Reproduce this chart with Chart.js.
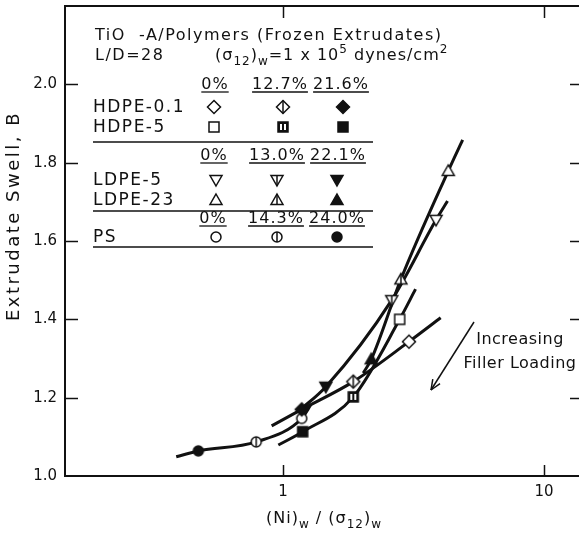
<!DOCTYPE html>
<html lang="en">
<head>
<meta charset="UTF-8">
<title>Extrudate Swell</title>
<script src="https://cdn.jsdelivr.net/npm/chart.js"></script>
<style>
html, body { margin: 0; padding: 0; overflow: hidden; background: #fff; }
#swellChart { display: block; }
</style>
</head>
<body>
<canvas id="swellChart" width="579" height="539"></canvas>
<script>
// filler loadings shown over each block of the key
var hdpeLoadings = ['0%', '12.7%', '21.6%'];
var ldpeLoadings = ['0%', '13.0%', '22.1%'];
var psLoadings = ['0%', '14.3%', '24.0%'];

// measured points, ordered 0%, middle, highest loading
var hdpe01X = [3.04, 1.86, 1.18];
var hdpe01Y = [1.343, 1.241, 1.170];
var hdpe5X = [2.80, 1.86, 1.19];
var hdpe5Y = [1.400, 1.202, 1.113];
var ldpe5X = [3.86, 2.61, 1.46];
var ldpe5Y = [1.654, 1.449, 1.228];
var ldpe23X = [4.30, 2.83, 2.18];
var ldpe23Y = [1.779, 1.502, 1.298];
var psX = [1.18, 0.79, 0.474];
var psY = [1.147, 1.087, 1.064];

// drawn curves through each polymer
var hdpe01CurveX = [0.905, 1.18, 1.86, 3.04, 4.02];
var hdpe01CurveY = [1.128, 1.170, 1.241, 1.343, 1.404];
var hdpe5CurveX = [0.96, 1.19, 1.86, 2.80, 3.22];
var hdpe5CurveY = [1.079, 1.113, 1.202, 1.400, 1.477];
var ldpe5CurveX = [1.16, 1.46, 2.61, 3.86, 4.27];
var ldpe5CurveY = [1.168, 1.228, 1.449, 1.654, 1.702];
var ldpe23CurveX = [2.03, 2.18, 2.83, 4.30, 4.88];
var ldpe23CurveY = [1.263, 1.298, 1.502, 1.779, 1.858];
var psCurveX = [0.39, 0.474, 0.79, 1.18, 1.28];
var psCurveY = [1.049, 1.064, 1.087, 1.147, 1.183];

var yTickValues = [1.0, 1.2, 1.4, 1.6, 1.8, 2.0];
var xTickValues = [1, 10];

var INK = '#111';
var FONT = '"DejaVu Sans", sans-serif';

function pts(xs, ys) {
    return xs.map(function (x, i) { return {x: x, y: ys[i]}; });
}

// small canvas symbols: open, half (barred) and filled
function makeMarker(shape, fill) {
    var c = document.createElement('canvas');
    c.width = 18; c.height = 18;
    var g = c.getContext('2d');
    g.translate(9, 9);
    g.lineWidth = 1.5;
    g.strokeStyle = INK;
    g.fillStyle = INK;
    var top = -5, bot = 5;
    g.beginPath();
    if (shape === 'diamond') {
        g.moveTo(0, -6.5); g.lineTo(6.5, 0); g.lineTo(0, 6.5); g.lineTo(-6.5, 0); g.closePath();
        top = -6.5; bot = 6.5;
    } else if (shape === 'square') {
        g.rect(-5, -5, 10, 10);
    } else if (shape === 'up') {
        g.moveTo(0, -6); g.lineTo(6, 4.5); g.lineTo(-6, 4.5); g.closePath();
        top = -6; bot = 4.5;
    } else if (shape === 'down') {
        g.moveTo(0, 6); g.lineTo(6, -4.5); g.lineTo(-6, -4.5); g.closePath();
        top = -4.5; bot = 6;
    } else {
        g.arc(0, 0, 5, 0, Math.PI * 2);
    }
    if (fill === 'full') {
        g.fill(); g.stroke();
    } else if (fill === 'half' && shape === 'square') {
        g.fill(); g.stroke();
        g.fillStyle = '#fff';
        g.fillRect(-3, -3, 2, 6);
        g.fillRect(1, -3, 2, 6);
    } else {
        g.fillStyle = '#fff';
        g.fill(); g.stroke();
        if (fill === 'half') {
            g.beginPath(); g.moveTo(0, top); g.lineTo(0, bot); g.stroke();
        }
    }
    return c;
}

function markerSet(shape) {
    return [makeMarker(shape, 'open'), makeMarker(shape, 'half'), makeMarker(shape, 'full')];
}

var diamondMarks = markerSet('diamond');
var squareMarks = markerSet('square');
var downMarks = markerSet('down');
var upMarks = markerSet('up');
var circleMarks = markerSet('circle');

function curve(xs, ys) {
    return {
        type: 'line', data: pts(xs, ys), order: 2,
        borderColor: INK, borderWidth: 3, pointRadius: 0,
        cubicInterpolationMode: 'monotone', fill: false
    };
}

function markers(xs, ys, marks) {
    return {
        type: 'scatter', data: pts(xs, ys), order: 1,
        pointStyle: marks, pointRadius: 6, pointHoverRadius: 6
    };
}

function drawRich(ctx, parts, x, y, size, align) {
    var small = Math.round(size * 0.72);
    var w = 0;
    parts.forEach(function (p) {
        ctx.font = (p.sub || p.sup ? small : size) + 'px ' + FONT;
        w += ctx.measureText(p.t).width;
    });
    if (align === 'center') x -= w / 2;
    ctx.textAlign = 'left';
    ctx.textBaseline = 'alphabetic';
    parts.forEach(function (p) {
        ctx.font = (p.sub || p.sup ? small : size) + 'px ' + FONT;
        var dy = p.sub ? size * 0.3 : (p.sup ? -size * 0.42 : 0);
        ctx.fillText(p.t, x, y + dy);
        x += ctx.measureText(p.t).width;
    });
}

function line(ctx, x1, y1, x2, y2, w) {
    ctx.lineWidth = w;
    ctx.beginPath();
    ctx.moveTo(x1, y1);
    ctx.lineTo(x2, y2);
    ctx.stroke();
}

// key blocks: heading row, then rows of symbols
var keyBlocks = [
    {heads: hdpeLoadings, headX: [215, 280, 341], headY: 89, rule: 142, rows: [
        {name: 'HDPE-0.1', y: 107, marks: diamondMarks, mx: [214, 283, 343]},
        {name: 'HDPE-5', y: 127, marks: squareMarks, mx: [214, 283, 343]}
    ]},
    {heads: ldpeLoadings, headX: [214, 277, 338], headY: 160, rule: 211, rows: [
        {name: 'LDPE-5', y: 180, marks: downMarks, mx: [216, 277, 337]},
        {name: 'LDPE-23', y: 200, marks: upMarks, mx: [216, 277, 337]}
    ]},
    {heads: psLoadings, headX: [213, 276, 337], headY: 223, rule: 247, rows: [
        {name: 'PS', y: 237, marks: circleMarks, mx: [216, 277, 337]}
    ]}
];

var framePlugin = {
    id: 'framePlugin',
    afterDatasetsDraw: function (chart) {
        var ctx = chart.ctx, a = chart.chartArea;
        var xs = chart.scales.x, ys = chart.scales.y;
        ctx.save();
        ctx.strokeStyle = INK;
        ctx.lineCap = 'square';
        // open on the right: the frame runs past the page edge
        line(ctx, a.left, a.top, a.left, a.bottom, 2);
        line(ctx, a.left, a.bottom, a.right + 2, a.bottom, 2);
        line(ctx, a.left, a.top, a.right + 2, a.top, 2);
        ctx.lineCap = 'butt';
        yTickValues.slice(1).forEach(function (v) {
            var py = Math.round(ys.getPixelForValue(v)) + 0.5;
            line(ctx, a.left, py, a.left + 13, py, 1.5);
            line(ctx, a.right, py, a.right - 9, py, 1.5);
        });
        xTickValues.forEach(function (v) {
            var px = Math.round(xs.getPixelForValue(v)) + 0.5;
            line(ctx, px, a.bottom, px, a.bottom - 11, 1.5);
            line(ctx, px, a.top, px, a.top + 12, 1.5);
        });
        ctx.restore();
    },
    afterDraw: function (chart) {
        var ctx = chart.ctx;
        ctx.save();
        ctx.fillStyle = INK;
        ctx.strokeStyle = INK;

        // heading
        ctx.letterSpacing = '1.5px';
        ctx.font = '16px ' + FONT;
        ctx.textAlign = 'left';
        ctx.textBaseline = 'alphabetic';
        ctx.fillText('TiO  -A/Polymers (Frozen Extrudates)', 95, 40);
        ctx.fillText('L/D=28', 95, 60);
        ctx.letterSpacing = '1px';
        drawRich(ctx, [{t: '(σ'}, {t: '12', sub: true}, {t: ')'}, {t: 'w', sub: true},
            {t: '=1 x 10'}, {t: '5', sup: true}, {t: ' dynes/cm'}, {t: '2', sup: true}], 215, 60, 16);

        // key
        keyBlocks.forEach(function (b) {
            ctx.letterSpacing = '1px';
            ctx.font = '16px ' + FONT;
            ctx.textAlign = 'center';
            ctx.textBaseline = 'alphabetic';
            b.heads.forEach(function (h, i) {
                var w = ctx.measureText(h).width;
                ctx.fillText(h, b.headX[i], b.headY);
                line(ctx, b.headX[i] - w / 2, b.headY + 3, b.headX[i] + w / 2, b.headY + 3, 1.3);
            });
            b.rows.forEach(function (r) {
                ctx.letterSpacing = '1.5px';
                ctx.font = '17px ' + FONT;
                ctx.textAlign = 'left';
                ctx.textBaseline = 'middle';
                ctx.fillText(r.name, 93, r.y + 1);
                r.marks.forEach(function (m, i) {
                    ctx.drawImage(m, r.mx[i] - 9, r.y - 9);
                });
            });
            line(ctx, 93, b.rule, 373, b.rule, 1.3);
        });

        // annotation
        ctx.font = '16px ' + FONT;
        ctx.letterSpacing = '0.5px';
        ctx.textAlign = 'center';
        ctx.textBaseline = 'middle';
        ctx.fillText('Increasing', 520, 340);
        ctx.fillText('Filler Loading', 520, 364);
        line(ctx, 474, 322, 431, 390, 1.5);
        var ang = Math.atan2(390 - 322, 431 - 474);
        [0.4, -0.4].forEach(function (d) {
            line(ctx, 431, 390, 431 - 11 * Math.cos(ang + d), 390 - 11 * Math.sin(ang + d), 1.5);
        });

        // axis titles
        ctx.letterSpacing = '1px';
        drawRich(ctx, [{t: '(Ni)'}, {t: 'w', sub: true}, {t: ' / (σ'}, {t: '12', sub: true},
            {t: ')'}, {t: 'w', sub: true}], 324, 523, 16, 'center');
        ctx.save();
        ctx.translate(14, 216);
        ctx.rotate(-Math.PI / 2);
        ctx.letterSpacing = '2.5px';
        ctx.font = '18px ' + FONT;
        ctx.textAlign = 'center';
        ctx.textBaseline = 'middle';
        ctx.fillText('Extrudate Swell, B', 0, 0);
        ctx.restore();
        ctx.restore();
    }
};

new Chart(document.getElementById('swellChart'), {
    data: {
        datasets: [
            markers(hdpe01X, hdpe01Y, diamondMarks),
            markers(hdpe5X, hdpe5Y, squareMarks),
            markers(ldpe5X, ldpe5Y, downMarks),
            markers(ldpe23X, ldpe23Y, upMarks),
            markers(psX, psY, circleMarks),
            curve(hdpe01CurveX, hdpe01CurveY),
            curve(hdpe5CurveX, hdpe5CurveY),
            curve(ldpe5CurveX, ldpe5CurveY),
            curve(ldpe23CurveX, ldpe23CurveY),
            curve(psCurveX, psCurveY)
        ]
    },
    options: {
        responsive: false,
        animation: false,
        layout: {autoPadding: false, padding: {top: 6, right: 0, left: 0, bottom: 0}},
        plugins: {legend: {display: false}, tooltip: {enabled: false}},
        scales: {
            x: {
                type: 'logarithmic',
                min: 0.1462,
                max: 13.62,
                grid: {display: false, drawTicks: false},
                border: {display: false},
                ticks: {
                    autoSkip: false, maxRotation: 0, padding: 7, color: INK,
                    font: {family: 'DejaVu Sans', size: 15},
                    callback: function (v) { return xTickValues.indexOf(v) >= 0 ? String(v) : null; }
                },
                afterFit: function (s) { s.height = 63; s.paddingLeft = 0; s.paddingRight = 0; }
            },
            y: {
                type: 'linear',
                min: 1.0,
                max: 2.2,
                grid: {display: false, drawTicks: false},
                border: {display: false},
                ticks: {
                    stepSize: 0.2, padding: 8, color: INK,
                    font: {family: 'DejaVu Sans', size: 15},
                    callback: function (v) {
                        var r = Math.round(v * 10) / 10;
                        return yTickValues.indexOf(r) >= 0 ? r.toFixed(1) : null;
                    }
                },
                afterFit: function (s) { s.width = 65; s.paddingTop = 0; s.paddingBottom = 0; }
            }
        }
    },
    plugins: [framePlugin]
});
</script>
</body>
</html>
